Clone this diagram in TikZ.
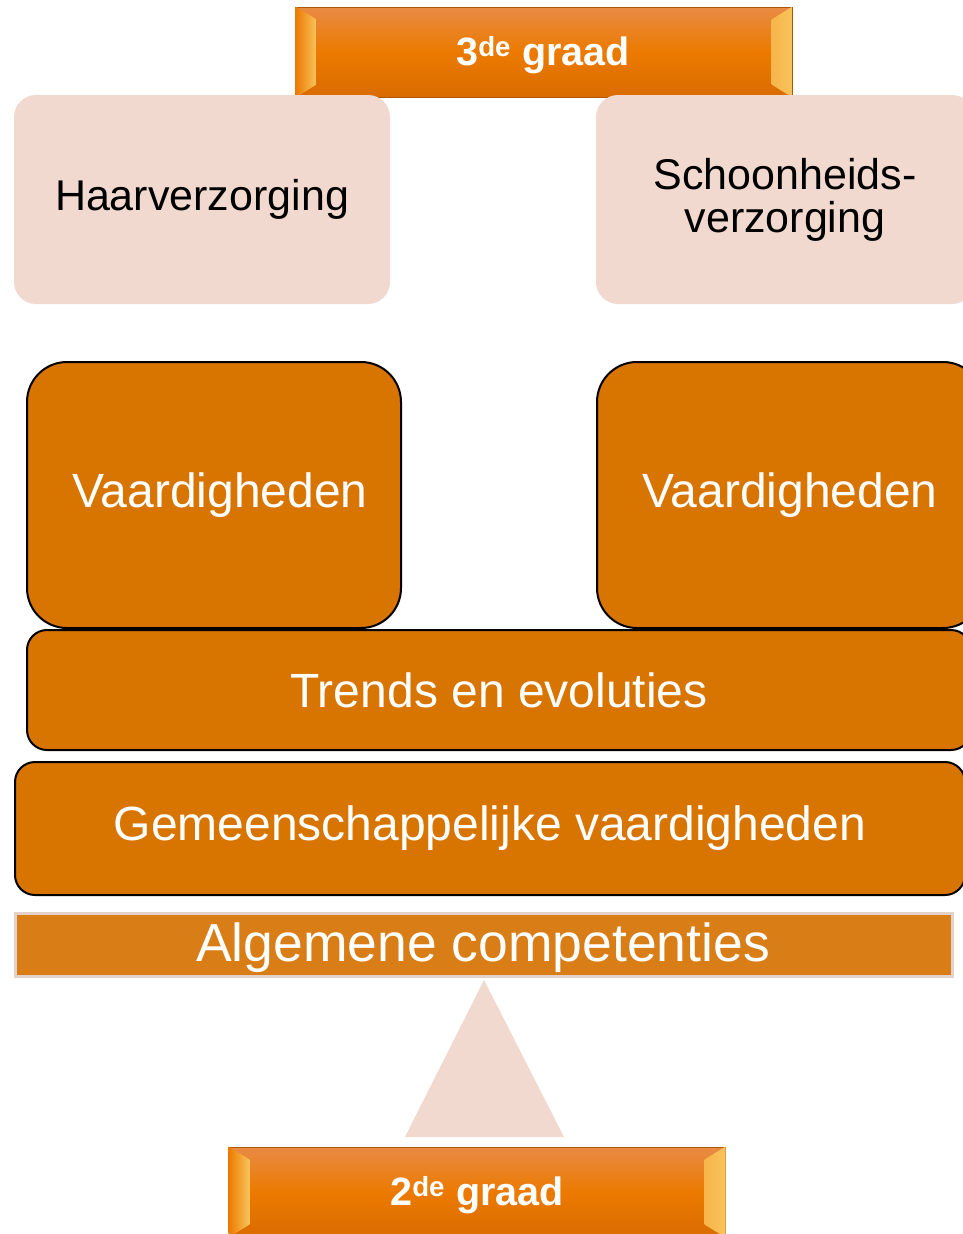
\documentclass[tikz,border=0pt]{standalone}
\usepackage{fontspec}
\setmainfont{Liberation Sans}
\usetikzlibrary{positioning}
\definecolor{roze}{HTML}{F2D9CF}
\definecolor{oranje}{HTML}{D87400}
\definecolor{algoranje}{HTML}{D97D17}
\definecolor{algrand}{HTML}{E3D3CB}
\definecolor{bantop}{HTML}{E88B45}
\definecolor{banmid}{HTML}{EC7A00}
\definecolor{banbot}{HTML}{D96C00}
\definecolor{bangeel}{HTML}{F8C45C}
\tikzstyle{richting} = [fill=roze, rounded corners=22pt, text=black,
    align=center, font=\fontsize{43}{43}\selectfont]
\tikzstyle{blok} = [draw=black, line width=2pt, fill=oranje, text=white,
    font=\fontsize{48}{50}\selectfont]
\tikzstyle{graad} = [draw=banbot!80!black, line width=1pt, top color=bantop,
    bottom color=banbot, middle color=banmid,
    minimum width=496pt, minimum height=90pt]
\tikzstyle{graadtekst} = [text=white, font=\bfseries\fontsize{39.5}{40}\selectfont]

\begin{document}
\begin{tikzpicture}[x=1pt,y=-1pt]
\useasboundingbox (0,0) rectangle (963,1234);
% banners
\node [graad] (graaddrie) at (544,52) {};
\node [graad] (graadtwee) at (477,1192) {};
\foreach \b in {graaddrie,graadtwee}{
  \shade[left color=banmid, right color=bangeel]
    (\b.north west) -- ++(21,13) -- ([shift={(21,-13)}]\b.south west) -- (\b.south west) -- cycle;
  \shade[left color=bangeel!80!banmid, right color=bangeel]
    (\b.north east) -- ++(-21,13) -- ([shift={(-21,-13)}]\b.south east) -- (\b.south east) -- cycle;
}
\node [graadtekst] (drietekst) at (543,55) {3\textsuperscript{de} graad};
\node [graadtekst] (tweetekst) at (477,1195) {2\textsuperscript{de} graad};
% richtingen
\node [richting, minimum width=376pt, minimum height=209pt] (haar) at (202,199.5) {Haarverzorging};
\node [richting, minimum width=378pt, minimum height=209pt] (schoon) at (785,199.5) {Schoonheids-\\verzorging};
% vaardigheden
\node [blok, rounded corners=40pt, minimum width=374pt, minimum height=266pt] (vaardlinks) at (214,495) {\hspace*{12pt}Vaardigheden};
\node [blok, rounded corners=40pt, minimum width=386pt, minimum height=266pt] (vaardrechts) at (790,495) {Vaardigheden};
\node [blok, rounded corners=20pt, minimum width=944pt, minimum height=120pt] (trends) at (499,690) {Trends en evoluties};
\node [blok, rounded corners=20pt, minimum width=950pt, minimum height=133pt] (gemeen) at (490,828.5) {Gemeenschappelijke vaardigheden};
\node [draw=algrand, line width=3pt, fill=algoranje, minimum width=937pt, minimum height=63pt] (algemeen) at (483.5,944.5) {};
\node [text=white, font=\fontsize{53.5}{55}\selectfont] (algtekst) at (483,948) {Algemene competenties};
% driehoek
\fill [roze] (484,980) -- (564,1137) -- (405,1137) -- cycle;
\end{tikzpicture}
\end{document}
